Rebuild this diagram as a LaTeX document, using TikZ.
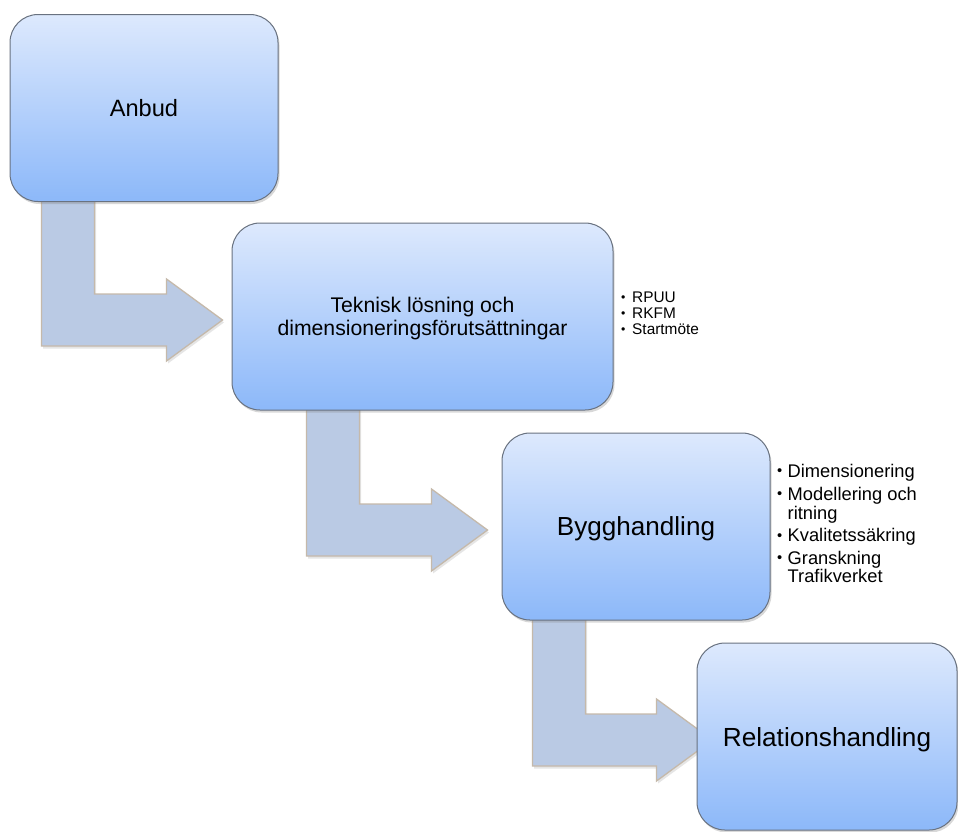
\documentclass[tikz,border=0pt]{standalone}
\usepackage{fontspec}
\setmainfont{Liberation Sans}
\usetikzlibrary{calc,shadows,backgrounds}
\definecolor{boxtop}{RGB}{221,233,253}
\definecolor{boxbot}{RGB}{140,184,249}
\definecolor{boxline}{RGB}{105,114,128}
\definecolor{arrfill}{RGB}{186,202,228}
\definecolor{arrline}{RGB}{197,185,170}
\tikzset{
  stagebox/.style={draw=boxline, line width=1pt, rounded corners=28pt,
    top color=boxtop, bottom color=boxbot, minimum height=187pt,
    inner sep=0pt, align=center, text depth=0pt,
    drop shadow={shadow xshift=1.5pt, shadow yshift=-2.5pt, opacity=0.3}},
  flowarrow/.style={draw=arrline, line width=1.3pt, fill=arrfill, line join=miter,
    drop shadow={shadow xshift=1.5pt, shadow yshift=-2.5pt, opacity=0.2}},
  bulletA/.style={anchor=base west, inner sep=0pt, font=\fontsize{15.4pt}{16pt}\selectfont},
  bulletB/.style={anchor=base west, inner sep=0pt, font=\fontsize{18.3pt}{19pt}\selectfont},
}
\newcommand{\mybul}[1]{\makebox[#1][l]{\raisebox{0.08em}{\scalebox{0.8}{•}}}}
% #1 from node, #2 shaft-left coordinate, #3 tip coordinate
\newcommand{\lconn}[3]{%
  \draw[flowarrow] let \p1=(#1.south), \p2=(#3), \p3=(#2) in
   (\x3,\y1+6pt) -- (\x3+53pt,\y1+6pt) -- (\x3+53pt,\y2+26pt) -- (\x2-56pt,\y2+26pt)
   -- (\x2-56pt,\y2+41pt) -- (\x2,\y2) -- (\x2-56pt,\y2-41pt) -- (\x2-56pt,\y2-26pt)
   -- (\x3,\y2-26pt) -- cycle;}
\begin{document}
\begin{tikzpicture}[x=1pt,y=-1pt]
\useasboundingbox (0,0) rectangle (958,831);

\node[stagebox, minimum width=268pt, font=\fontsize{23.6pt}{28pt}\selectfont] (b1) at (144,108) {Anbud};
\node[stagebox, minimum width=381pt, font=\fontsize{21.2pt}{22.5pt}\selectfont] (b2) at (422.5,316.5)
  {Teknisk lösning och\\dimensioneringsförutsättningar};
\node[stagebox, minimum width=268pt, font=\fontsize{26.1pt}{30pt}\selectfont] (b3) at (636,526.5) {Bygghandling};
\node[stagebox, minimum width=260pt, font=\fontsize{26.2pt}{30pt}\selectfont] (b4) at (827,736.5) {Relationshandling};

\coordinate (s1) at ($(b1.south west)+(32,0)$);
\coordinate (s2) at ($(b2.south west)+(75,0)$);
\coordinate (s3) at ($(b3.south west)+(31,0)$);
\coordinate (t1) at ($(b2.west)+(-9,3.5)$);
\coordinate (t2) at ($(b3.west)+(-14,3.5)$);
\coordinate (t3) at ($(b4.west)+(16,3.5)$);

\begin{scope}[on background layer]
  \fill[white] (0,0) rectangle (958,831);
  \lconn{b1}{s1}{t1}
  \lconn{b2}{s2}{t2}
  \lconn{b3}{s3}{t3}
\end{scope}

\node[bulletA] (r1) at (621,302.7) {\mybul{11pt}RPUU};
\node[bulletA] (r2) at (621,318.7) {\mybul{11pt}RKFM};
\node[bulletA] (r3) at (621,334.3) {\mybul{11pt}Startmöte};

\node[bulletB] (d1) at (777,477.3) {\mybul{10.5pt}Dimensionering};
\node[bulletB] (d2) at (777,500) {\mybul{10.5pt}Modellering och};
\node[bulletB] (d3) at (787.5,519) {ritning};
\node[bulletB] (d4) at (777,541.7) {\mybul{10.5pt}Kvalitetssäkring};
\node[bulletB] (d5) at (777,564) {\mybul{10.5pt}Granskning};
\node[bulletB] (d6) at (787.5,582.7) {Trafikverket};
\end{tikzpicture}
\end{document}
